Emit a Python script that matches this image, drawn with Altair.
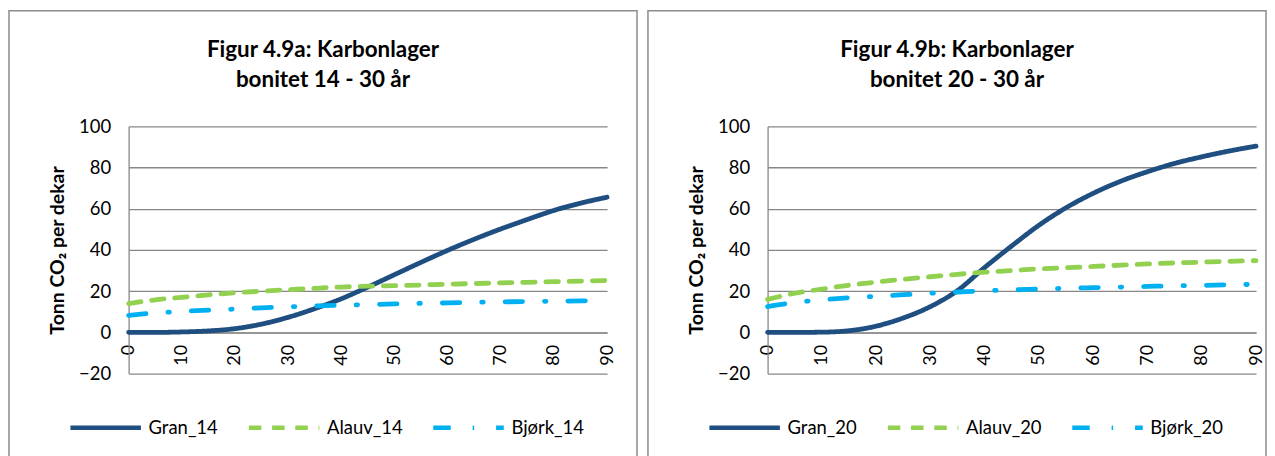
import altair as alt
import pandas as pd

years = list(range(0, 95, 5))

names_14 = ["Gran_14", "Alauv_14", "Bjørk_14"]
gran_14 = [0, 0, 0.2, 0.7, 1.8, 4.0, 7.3, 11.5, 16.3, 22.0, 28.0, 34.0, 39.8, 45.2, 50.2, 54.8, 59.2, 62.7, 65.6]
alauv_14 = [14.0, 15.8, 17.0, 18.2, 19.2, 20.0, 20.7, 21.4, 22.0, 22.4, 22.7, 23.0, 23.4, 23.7, 24.0, 24.3, 24.6, 24.9, 25.2]
bjork_14 = [8.3, 9.4, 10.2, 10.8, 11.3, 11.9, 12.4, 12.8, 13.2, 13.5, 13.8, 14.1, 14.3, 14.6, 14.8, 15.0, 15.1, 15.3, 15.4]

names_20 = ["Gran_20", "Alauv_20", "Bjørk_20"]
gran_20 = [0, 0, 0.1, 0.8, 3.0, 7.0, 12.5, 20.3, 31.5, 42.0, 52.0, 60.5, 67.5, 73.3, 78.0, 82.0, 85.2, 88.0, 90.4]
alauv_20 = [16.0, 19.0, 21.0, 22.9, 24.4, 25.8, 27.0, 28.2, 29.2, 30.0, 30.8, 31.4, 32.0, 32.6, 33.2, 33.7, 34.1, 34.5, 34.8]
bjork_20 = [12.5, 14.5, 15.8, 16.8, 17.5, 18.3, 19.0, 19.6, 20.2, 20.6, 21.0, 21.4, 21.7, 22.0, 22.3, 22.6, 22.8, 23.1, 23.3]

title_a = ["Figur 4.9a: Karbonlager", "bonitet 14 - 30 år"]
title_b = ["Figur 4.9b: Karbonlager", "bonitet 20 - 30 år"]
y_title = "Tonn CO₂ per dekar"
x_ticks = list(range(0, 91, 10))
y_ticks = [-20, 0, 20, 40, 60, 80, 100]

colors = ["#1F4E80", "#92D050", "#00B0F0"]
dashes = [[1, 0], [12.5, 10.8], [17.5, 22, 1.5, 22]]

FONT = "Lato"
GRID = "#878787"
H = 248


def make_df(names, series):
    rows = []
    for n, vals in zip(names, series):
        for yr, v in zip(years, vals):
            rows.append({"year": yr, "value": v, "series": n})
    return pd.DataFrame(rows)


def panel(names, series, title, width, box_right):
    df = make_df(names, series)
    leg = alt.Legend(
        title=None, orient="none", direction="horizontal",
        legendX=-61, legendY=264,
        symbolType="stroke", symbolSize=5000, symbolStrokeWidth=4.5,
        labelFont=FONT, labelFontSize=18.5, labelColor="#000000",
        labelOffset=5, columnPadding=21, labelLimit=200,
    )
    lines = alt.Chart(df).mark_line(
        strokeWidth=4.8, strokeCap="round", interpolate="monotone"
    ).encode(
        x=alt.X("year:Q",
                scale=alt.Scale(domain=[0, 90], nice=False, zero=False),
                axis=alt.Axis(values=x_ticks, labelAngle=-90, offset=-H * 20 / 120,
                              grid=False, ticks=False, labelPadding=12,
                              labelFont=FONT, labelFontSize=18, labelColor="#000000",
                              domainColor=GRID, domainWidth=1.3,
                              labelFlush=False, labelOverlap=False, title=None)),
        y=alt.Y("value:Q",
                scale=alt.Scale(domain=[-20, 100], nice=False),
                axis=alt.Axis(values=y_ticks, grid=True, gridColor=GRID, gridWidth=1.3,
                              ticks=False, labelPadding=18,
                              labelFont=FONT, labelFontSize=18.5, labelColor="#000000",
                              domainColor=GRID, domainWidth=1.3,
                              title=y_title, titleFont=FONT, titleFontSize=19.5,
                              titleFontWeight="bold", titleColor="#000000",
                              titlePadding=11)),
        color=alt.Color("series:N", scale=alt.Scale(domain=names, range=colors), legend=leg),
        strokeDash=alt.StrokeDash("series:N", scale=alt.Scale(domain=names, range=dashes), legend=leg),
    )
    box = alt.Chart(pd.DataFrame({"k": [0]})).mark_rect(
        fillOpacity=0, stroke="#8C8C8C", strokeWidth=1.5
    ).encode(
        x=alt.value(-120), x2=alt.value(box_right),
        y=alt.value(-116), y2=alt.value(345),
    )
    return alt.layer(box, lines).properties(
        width=width, height=H,
        title=alt.TitleParams(text=title, font=FONT, fontSize=22.5, fontWeight="bold",
                              color="#000000", anchor="middle", frame="bounds",
                              offset=-82, lineHeight=30),
    )


left = panel(names_14, [gran_14, alauv_14, bjork_14], title_a, 480, 510)
right = panel(names_20, [gran_20, alauv_20, bjork_20], title_b, 490, 500)

chart = alt.hconcat(left, right, spacing=161, bounds="flush").resolve_scale(
    color="independent", strokeDash="independent", x="independent", y="independent"
).resolve_legend(color="independent", strokeDash="independent").properties(
    padding={"left": 0, "top": 1, "right": 0, "bottom": 0}
).configure_view(strokeWidth=0)

chart.save("out.html", embed_options={"renderer": "svg", "actions": False})
